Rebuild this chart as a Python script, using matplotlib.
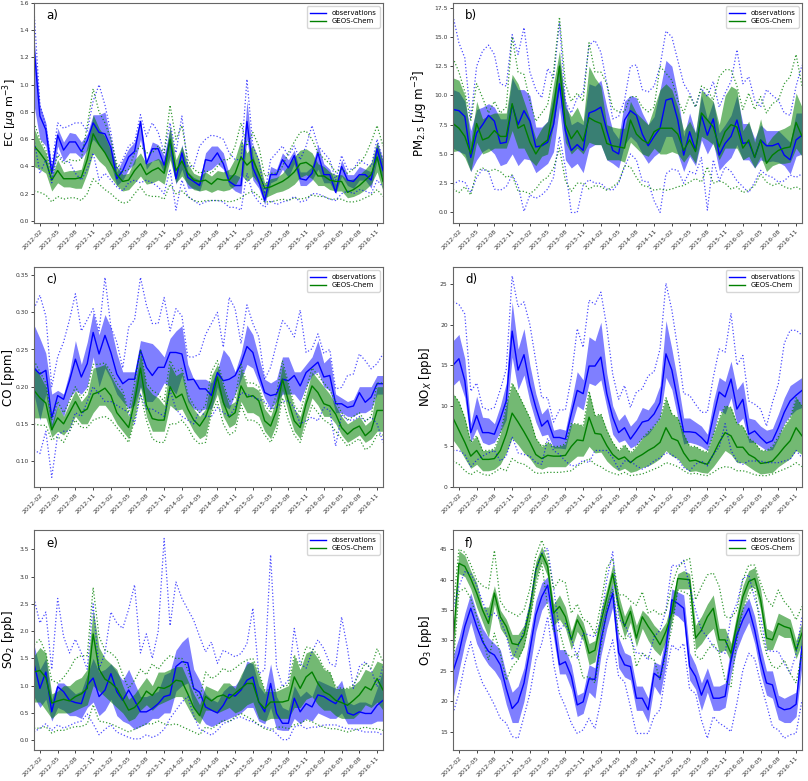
import numpy as np
import matplotlib
matplotlib.use("Agg")
import matplotlib.pyplot as plt

months = np.arange(60)  # 2012-01 ... 2016-12
tick_pos = [1, 4, 7, 10, 13, 16, 19, 22, 25, 28, 31, 34, 37, 40, 43, 46, 49, 52, 55, 58]
tick_labels = ['2012-02', '2012-05', '2012-08', '2012-11', '2013-02', '2013-05', '2013-08',
               '2013-11', '2014-02', '2014-05', '2014-08', '2014-11', '2015-02', '2015-05',
               '2015-08', '2015-11', '2016-02', '2016-05', '2016-08', '2016-11']

# ---------------- a) EC ----------------
obs_med_a = [1.28,0.77,0.67,0.35,0.63,0.52,0.58,0.58,0.51,0.59, 0.72,0.65,0.64,0.54,0.31,0.37,0.47,0.51,0.73,0.42,
             0.53,0.53,0.41,0.59,0.31,0.50,0.32,0.29,0.26,0.45, 0.44,0.50,0.42,0.29,0.26,0.26,0.73,0.39,0.29,0.15,
             0.34,0.34,0.45,0.39,0.48,0.31,0.30,0.35,0.50,0.34, 0.34,0.21,0.40,0.30,0.29,0.34,0.34,0.30,0.53,0.37]
obs_q25_a = [0.85,0.60,0.55,0.30,0.55,0.44,0.50,0.50,0.46,0.52, 0.60,0.55,0.50,0.42,0.26,0.30,0.38,0.42,0.60,0.38,
             0.44,0.45,0.35,0.48,0.27,0.38,0.24,0.24,0.22,0.36, 0.38,0.42,0.38,0.26,0.22,0.20,0.60,0.30,0.24,0.12,
             0.28,0.30,0.38,0.32,0.42,0.26,0.26,0.30,0.38,0.28, 0.28,0.20,0.33,0.26,0.24,0.30,0.30,0.24,0.45,0.30]
obs_q75_a = [1.35,0.85,0.72,0.40,0.68,0.58,0.65,0.64,0.58,0.64, 0.78,0.78,0.80,0.60,0.36,0.45,0.53,0.58,0.75,0.45,
             0.58,0.56,0.48,0.68,0.36,0.56,0.36,0.32,0.30,0.50, 0.55,0.55,0.50,0.34,0.34,0.32,0.88,0.48,0.34,0.20,
             0.40,0.38,0.50,0.45,0.52,0.36,0.36,0.40,0.56,0.42, 0.38,0.27,0.45,0.34,0.34,0.40,0.38,0.36,0.58,0.45]
obs_hi_a = [1.55,0.85,0.70,0.40,0.72,0.68,0.70,0.72,0.72,0.66, 0.88,1.00,0.85,0.65,0.38,0.45,0.55,0.58,0.78,0.62,
            0.72,0.65,0.50,0.72,0.50,0.77,0.40,0.40,0.55,0.60, 0.63,0.62,0.60,0.50,0.45,0.45,1.04,0.55,0.45,0.20,
            0.45,0.50,0.55,0.48,0.55,0.45,0.55,0.70,0.55,0.50, 0.45,0.30,0.48,0.38,0.38,0.45,0.42,0.40,0.60,0.45]
obs_lo_a = [0.60,0.35,0.45,0.28,0.50,0.44,0.43,0.35,0.30,0.38, 0.50,0.30,0.35,0.30,0.25,0.22,0.28,0.30,0.28,0.30,
            0.28,0.25,0.20,0.38,0.08,0.30,0.18,0.15,0.12,0.14, 0.15,0.15,0.14,0.10,0.10,0.08,0.35,0.20,0.14,0.10,
            0.15,0.12,0.14,0.15,0.18,0.14,0.15,0.20,0.20,0.18, 0.16,0.15,0.20,0.22,0.20,0.23,0.22,0.20,0.30,0.25]
mod_med_a = [0.55,0.50,0.44,0.30,0.37,0.31,0.31,0.31,0.32,0.45, 0.64,0.56,0.50,0.42,0.34,0.29,0.30,0.37,0.42,0.34,
             0.37,0.39,0.35,0.60,0.37,0.44,0.35,0.30,0.29,0.30, 0.27,0.31,0.30,0.30,0.35,0.47,0.41,0.45,0.35,0.24,
             0.25,0.27,0.29,0.32,0.36,0.42,0.43,0.40,0.33,0.33, 0.30,0.29,0.29,0.21,0.23,0.26,0.30,0.34,0.47,0.29]
mod_q25_a = [0.40,0.38,0.35,0.22,0.28,0.25,0.25,0.24,0.24,0.35, 0.50,0.44,0.40,0.32,0.26,0.22,0.23,0.28,0.33,0.27,
             0.28,0.30,0.27,0.45,0.28,0.33,0.27,0.23,0.22,0.23, 0.21,0.23,0.22,0.23,0.26,0.34,0.29,0.33,0.27,0.17,
             0.19,0.21,0.22,0.24,0.27,0.32,0.34,0.31,0.26,0.26, 0.23,0.22,0.22,0.17,0.18,0.20,0.23,0.27,0.36,0.22]
mod_q75_a = [0.68,0.58,0.50,0.33,0.45,0.36,0.37,0.37,0.38,0.55, 0.78,0.68,0.62,0.52,0.40,0.34,0.35,0.45,0.50,0.42,
             0.44,0.46,0.42,0.70,0.45,0.55,0.42,0.35,0.33,0.36, 0.33,0.37,0.36,0.38,0.46,0.60,0.50,0.56,0.45,0.28,
             0.31,0.32,0.35,0.41,0.47,0.52,0.53,0.50,0.42,0.40, 0.36,0.34,0.34,0.30,0.31,0.34,0.38,0.43,0.58,0.43]
mod_hi_a = [0.72,0.60,0.52,0.35,0.48,0.42,0.45,0.44,0.45,0.70, 0.97,0.80,0.72,0.60,0.42,0.36,0.38,0.50,0.55,0.50,
            0.50,0.55,0.50,0.85,0.60,0.70,0.45,0.38,0.35,0.37, 0.35,0.40,0.45,0.45,0.55,0.72,0.55,0.65,0.55,0.33,
            0.35,0.35,0.40,0.50,0.58,0.65,0.66,0.60,0.50,0.46, 0.42,0.36,0.38,0.35,0.38,0.42,0.48,0.58,0.70,0.55]
mod_lo_a = [0.22,0.21,0.19,0.14,0.18,0.16,0.17,0.17,0.15,0.20, 0.31,0.27,0.23,0.20,0.16,0.13,0.14,0.20,0.25,0.19,
            0.18,0.18,0.16,0.27,0.20,0.22,0.18,0.15,0.14,0.15, 0.15,0.15,0.15,0.14,0.15,0.17,0.20,0.22,0.18,0.14,
            0.14,0.15,0.16,0.15,0.17,0.16,0.17,0.19,0.18,0.18, 0.16,0.16,0.16,0.14,0.14,0.15,0.17,0.19,0.23,0.18]

# ---------------- b) PM2.5 ----------------
obs_med_b = [8.8,8.7,8.2,4.7,6.8,7.5,8.3,7.8,5.9,6.0, 9.2,7.5,8.7,7.8,5.6,5.7,6.0,7.5,11.0,7.0,
             5.3,5.8,5.3,8.5,8.7,9.0,7.0,5.3,5.0,7.9, 8.7,8.3,6.7,5.7,6.5,7.2,9.6,9.75,7.9,4.9,
             6.9,5.3,8.3,6.6,8.0,4.9,5.9,6.5,7.9,5.9, 6.0,4.7,6.2,5.7,5.7,5.9,4.9,4.5,6.2,6.6]
obs_q25_b = [5.5,5.2,5.0,3.5,4.5,5.2,5.5,5.0,4.0,4.2, 5.0,4.0,4.6,4.5,3.4,3.8,4.2,5.2,9.0,4.5,
             3.8,4.2,3.4,5.5,5.8,5.8,4.5,4.2,3.8,5.8, 6.5,6.0,5.0,4.2,4.8,5.2,6.5,6.5,5.0,3.5,
             4.8,4.0,6.2,5.0,6.0,3.6,4.2,4.7,5.8,4.5, 4.5,3.8,4.5,4.3,4.4,4.3,4.0,3.3,4.8,5.0]
obs_q75_b = [10.5,10.3,9.5,7.0,8.8,9.0,9.3,9.0,8.0,8.0, 11.5,10.5,10.5,10.0,7.3,7.3,7.8,10.0,13.0,9.5,
             7.5,7.8,7.5,11.0,10.8,11.3,9.0,7.0,6.3,9.5, 10.0,9.8,8.5,7.5,8.2,10.5,13.0,12.5,10.0,6.5,
             8.5,6.8,10.0,8.0,9.5,6.8,7.5,8.3,10.0,7.6, 7.6,6.3,7.5,7.0,7.0,7.0,6.5,6.0,8.5,8.5]
obs_hi_b = [16.8,14.5,13.2,8.0,12.5,13.8,14.3,13.5,11.0,10.8, 15.2,13.5,15.8,12.0,10.5,9.8,12.3,11.5,16.2,9.5,
            8.5,9.8,10.2,14.3,14.7,13.7,11.0,8.0,8.2,9.6, 12.5,12.6,10.5,10.3,10.8,12.5,15.5,15.0,13.0,11.0,
            10.2,9.0,10.6,9.9,11.2,9.0,10.2,11.2,13.9,11.0, 11.6,9.6,9.0,10.5,10.0,9.6,8.5,8.3,10.8,12.6]
obs_lo_b = [2.4,2.7,2.6,1.7,3.0,3.7,3.5,2.0,1.9,2.2, 3.2,2.3,0.1,1.5,1.2,1.5,2.0,3.0,6.5,3.8,
            0.0,0.0,2.3,2.8,2.5,2.5,2.0,1.9,2.5,3.9, 5.0,4.5,2.7,2.6,1.0,0.0,3.3,3.7,3.6,2.5,
            3.5,3.3,4.7,0.2,4.5,2.7,3.9,3.5,2.7,2.2, 1.7,2.6,3.6,3.2,3.0,2.6,2.7,3.2,3.0,3.3]
mod_med_b = [7.6,7.2,6.5,5.0,7.6,6.2,6.4,7.0,6.5,6.5, 9.3,7.2,7.5,6.0,5.0,5.8,6.2,9.0,12.5,7.5,
             6.3,7.0,6.1,8.1,7.8,7.6,5.9,5.7,5.6,5.5, 7.9,6.7,6.2,5.9,6.9,7.2,7.2,7.2,6.7,5.3,
             6.2,5.2,8.5,7.9,7.3,5.6,6.9,7.5,7.3,5.5, 6.2,4.7,6.2,4.2,4.9,5.3,5.5,5.6,7.7,6.5]
mod_q25_b = [5.2,5.3,4.7,3.5,6.0,5.0,5.2,5.5,5.5,5.5, 7.0,5.5,5.5,4.5,4.0,4.8,5.0,7.5,10.5,6.0,
             5.0,5.5,5.0,6.0,5.8,5.8,4.5,4.5,4.5,4.3, 6.0,5.5,5.0,4.8,5.5,5.0,5.0,5.2,5.0,4.3,
             5.0,4.2,6.5,6.2,5.8,4.5,5.5,5.5,5.5,4.5, 4.8,3.8,4.8,3.5,4.0,4.2,4.2,4.3,5.5,4.8]
mod_q75_b = [11.5,11.3,10.0,6.0,9.5,8.0,8.3,8.5,8.5,8.5, 11.8,11.0,9.5,8.0,6.3,7.2,7.8,11.0,13.8,9.0,
             8.2,9.0,7.8,12.5,11.5,10.8,7.5,7.3,7.2,7.2, 9.5,8.5,8.0,7.5,9.0,10.5,11.0,10.5,9.0,7.0,
             7.8,6.8,10.5,10.0,9.5,7.5,10.0,10.8,10.5,7.0, 7.8,6.0,8.0,5.8,6.5,7.0,7.2,7.5,10.2,9.0]
mod_hi_b = [13.2,12.0,10.3,7.8,11.0,9.8,8.5,9.5,8.5,9.0, 15.0,12.0,11.8,9.5,7.8,8.5,9.2,12.0,16.7,11.0,
            9.5,10.2,9.5,14.5,12.0,12.0,11.0,8.9,8.6,8.6, 9.9,9.9,9.0,8.6,9.0,12.5,11.9,11.3,9.6,8.5,
            10.0,9.0,10.8,10.5,9.6,11.6,12.2,12.2,10.8,8.8, 10.2,8.8,9.9,8.5,9.3,9.6,11.0,11.6,13.5,10.8]
mod_lo_b = [2.0,1.7,2.2,1.5,3.5,3.8,3.5,3.7,3.5,3.0, 3.2,1.8,1.8,1.6,2.0,2.7,3.0,3.8,5.5,2.7,
            1.8,2.5,2.5,2.0,2.3,2.2,1.9,2.2,2.6,4.0, 3.9,3.0,2.3,2.2,1.9,2.0,1.9,2.0,2.2,2.3,
            2.6,2.9,2.6,3.9,2.5,2.7,2.5,2.0,2.2,1.7, 1.9,2.3,3.3,2.6,2.3,2.5,2.2,2.0,2.2,1.9]

# ---------------- c) CO ----------------
obs_med_c = [0.225,0.217,0.222,0.158,0.188,0.183,0.208,0.237,0.213,0.231, 0.273,0.244,0.269,0.246,0.217,0.204,0.210,0.210,0.249,0.226,
             0.215,0.226,0.226,0.246,0.246,0.244,0.209,0.210,0.197,0.197, 0.188,0.219,0.208,0.210,0.215,0.231,0.254,0.246,0.217,0.192,
             0.188,0.190,0.210,0.208,0.215,0.201,0.219,0.226,0.233,0.213, 0.215,0.177,0.177,0.172,0.174,0.192,0.179,0.186,0.204,0.204]
obs_q25_c = [0.190,0.155,0.190,0.140,0.175,0.160,0.185,0.195,0.190,0.200, 0.240,0.200,0.225,0.210,0.190,0.180,0.170,0.175,0.200,0.180,
             0.180,0.190,0.205,0.200,0.190,0.215,0.180,0.170,0.168,0.170, 0.170,0.200,0.175,0.170,0.190,0.210,0.230,0.225,0.205,0.185,
             0.170,0.180,0.190,0.190,0.190,0.180,0.200,0.215,0.220,0.200, 0.195,0.165,0.165,0.160,0.160,0.165,0.165,0.170,0.190,0.190]
obs_q75_c = [0.283,0.265,0.245,0.190,0.195,0.190,0.220,0.262,0.230,0.260, 0.300,0.270,0.297,0.280,0.245,0.220,0.220,0.220,0.262,0.260,
             0.258,0.250,0.240,0.265,0.275,0.282,0.230,0.210,0.210,0.210, 0.205,0.222,0.250,0.240,0.220,0.245,0.283,0.270,0.240,0.210,
             0.205,0.210,0.240,0.240,0.220,0.220,0.230,0.240,0.262,0.232, 0.240,0.190,0.185,0.180,0.183,0.200,0.200,0.200,0.215,0.215]
obs_hi_c = [0.305,0.323,0.295,0.200,0.240,0.260,0.290,0.325,0.275,0.290, 0.305,0.275,0.347,0.280,0.260,0.225,0.280,0.290,0.347,0.310,
            0.285,0.285,0.320,0.275,0.305,0.295,0.240,0.240,0.244,0.270, 0.285,0.300,0.253,0.320,0.305,0.258,0.310,0.285,0.267,0.210,
            0.226,0.258,0.289,0.280,0.267,0.303,0.246,0.251,0.271,0.245, 0.250,0.197,0.199,0.215,0.217,0.244,0.235,0.224,0.231,0.244]
obs_lo_c = [0.115,0.110,0.140,0.078,0.135,0.140,0.140,0.165,0.160,0.180, 0.200,0.190,0.180,0.180,0.175,0.170,0.165,0.150,0.190,0.170,
            0.170,0.165,0.160,0.195,0.170,0.160,0.155,0.150,0.168,0.160, 0.160,0.172,0.165,0.160,0.172,0.192,0.190,0.186,0.183,0.180,
            0.170,0.172,0.180,0.181,0.172,0.150,0.154,0.159,0.154,0.172, 0.168,0.120,0.163,0.155,0.155,0.160,0.154,0.159,0.150,0.125]
mod_med_c = [0.195,0.185,0.178,0.142,0.158,0.150,0.165,0.180,0.165,0.170, 0.190,0.193,0.198,0.188,0.165,0.155,0.145,0.180,0.225,0.175,
             0.157,0.155,0.155,0.200,0.185,0.190,0.170,0.155,0.147,0.159, 0.181,0.213,0.179,0.159,0.165,0.201,0.186,0.188,0.181,0.154,
             0.147,0.168,0.210,0.181,0.154,0.145,0.177,0.201,0.192,0.177, 0.174,0.163,0.145,0.136,0.143,0.147,0.134,0.141,0.168,0.168]
mod_q25_c = [0.158,0.158,0.158,0.132,0.140,0.135,0.145,0.160,0.150,0.150, 0.165,0.175,0.175,0.165,0.150,0.140,0.130,0.160,0.200,0.160,
             0.140,0.140,0.140,0.175,0.168,0.170,0.155,0.140,0.130,0.135, 0.170,0.190,0.160,0.145,0.150,0.180,0.165,0.165,0.160,0.140,
             0.130,0.150,0.195,0.165,0.140,0.130,0.160,0.185,0.175,0.160, 0.160,0.150,0.135,0.125,0.130,0.135,0.125,0.130,0.140,0.140]
mod_q75_c = [0.228,0.215,0.200,0.150,0.175,0.160,0.178,0.195,0.180,0.190, 0.225,0.227,0.230,0.215,0.200,0.190,0.160,0.200,0.245,0.200,
             0.190,0.185,0.175,0.230,0.215,0.220,0.185,0.170,0.160,0.170, 0.215,0.230,0.200,0.175,0.180,0.225,0.200,0.200,0.195,0.170,
             0.160,0.185,0.230,0.200,0.170,0.160,0.190,0.220,0.210,0.200, 0.190,0.175,0.160,0.150,0.155,0.160,0.148,0.155,0.200,0.200]
mod_hi_c = [0.235,0.220,0.205,0.155,0.180,0.165,0.180,0.200,0.185,0.195, 0.230,0.230,0.232,0.220,0.205,0.195,0.165,0.205,0.250,0.205,
            0.195,0.190,0.180,0.235,0.220,0.225,0.190,0.175,0.165,0.175, 0.220,0.235,0.205,0.180,0.185,0.230,0.205,0.205,0.200,0.175,
            0.165,0.190,0.235,0.205,0.175,0.165,0.195,0.225,0.215,0.205, 0.195,0.180,0.165,0.155,0.160,0.165,0.153,0.160,0.205,0.205]
mod_lo_c = [0.150,0.148,0.148,0.128,0.133,0.125,0.140,0.155,0.145,0.145, 0.155,0.158,0.160,0.155,0.145,0.135,0.125,0.155,0.190,0.155,
            0.130,0.125,0.125,0.150,0.150,0.155,0.145,0.130,0.123,0.125, 0.165,0.180,0.150,0.135,0.140,0.175,0.155,0.155,0.150,0.135,
            0.125,0.140,0.185,0.155,0.135,0.125,0.150,0.175,0.165,0.155, 0.150,0.140,0.130,0.120,0.125,0.130,0.115,0.120,0.135,0.135]

# ---------------- d) NOx ----------------
obs_med_d = [15.0,15.8,13.1,6.7,8.8,6.7,6.7,6.5,8.4,10.6, 19.2,14.4,16.3,12.5,9.8,7.5,8.2,6.1,6.1,5.9,
             9.0,11.9,11.5,14.9,14.9,16.0,11.5,8.6,6.7,7.3, 5.9,6.9,8.0,8.2,9.0,10.4,16.4,14.4,10.6,6.8,
             6.8,6.7,6.1,5.3,8.6,11.7,11.1,13.3,9.6,10.8, 6.5,6.9,6.1,5.4,5.7,7.3,9.2,10.6,11.3,11.9]
obs_q25_d = [12.5,13.2,11.0,5.5,7.2,5.5,5.2,5.5,6.8,8.3, 16.0,12.0,13.8,10.5,8.0,6.3,6.5,4.8,4.8,4.7,
             7.5,10.0,9.5,12.8,12.5,13.2,9.8,6.5,5.5,5.8, 4.8,5.2,6.0,6.5,7.5,8.5,13.5,12.0,8.5,5.3,
             5.5,5.3,5.0,4.5,6.5,9.5,9.0,11.0,7.7,8.5, 5.5,5.5,5.0,4.5,4.6,6.0,7.8,8.8,9.5,9.8]
obs_q75_d = [18.0,18.8,15.8,7.8,11.2,8.6,8.5,7.8,10.0,12.8, 22.8,17.0,19.5,15.0,11.5,9.0,9.8,7.0,7.2,7.0,
             10.5,14.2,13.2,18.5,18.0,20.3,14.0,10.0,8.2,9.0, 7.5,8.3,9.8,9.5,10.5,12.5,20.5,17.0,13.0,8.5,
             8.5,8.0,7.5,6.5,10.5,13.5,13.0,15.5,12.0,13.0, 8.5,8.3,7.5,7.0,7.2,9.0,11.0,12.5,13.0,13.5]
obs_hi_d = [22.8,22.5,21.3,11.8,12.8,9.8,9.5,9.8,12.0,14.5, 26.0,22.2,22.8,20.0,15.5,11.0,11.0,8.0,9.5,9.5,
            13.5,19.5,17.2,23.0,22.5,24.0,19.7,13.9,10.8,12.5, 9.8,11.7,12.1,13.7,14.2,17.0,25.1,21.8,17.0,11.5,
            11.3,10.2,9.2,9.2,13.5,17.0,16.6,21.4,15.0,16.2, 10.6,10.2,9.6,7.5,10.4,12.7,17.7,19.3,19.3,18.7]
obs_lo_d = [4.5,4.5,4.0,2.5,3.3,3.8,4.2,4.5,3.2,3.8, 6.2,4.2,4.0,3.8,3.0,2.8,6.0,4.5,4.0,3.2,
            2.6,2.7,3.3,3.0,4.5,4.5,4.5,3.6,2.2,3.2, 3.2,2.6,2.2,2.6,3.2,3.6,4.2,4.0,3.4,2.4,
            2.0,2.8,3.2,2.6,4.0,4.9,7.8,4.5,3.2,2.8, 3.2,3.2,3.2,3.0,3.0,3.0,3.2,3.4,4.5,3.6]
mod_med_d = [8.5,7.0,5.5,3.8,4.5,3.4,3.4,3.5,4.5,6.5, 9.1,8.0,6.8,5.5,4.0,3.5,3.9,3.8,3.8,3.9,
             5.0,5.8,5.7,8.6,6.6,6.5,5.1,4.0,3.4,3.7, 3.0,3.6,4.0,4.5,4.9,5.5,7.3,6.0,5.7,4.2,
             3.2,3.3,3.0,2.8,4.0,5.5,6.7,6.3,4.9,4.9, 4.0,3.6,2.9,3.0,3.2,4.0,4.9,5.7,7.3,6.3]
mod_q25_d = [5.8,4.8,3.5,2.3,2.8,2.0,2.0,2.2,2.8,4.2, 6.0,5.2,4.2,3.5,2.5,2.2,2.5,2.5,2.5,2.5,
             3.2,3.8,3.8,5.0,4.2,4.3,3.2,2.5,2.0,2.3, 1.8,2.0,2.4,2.6,3.0,3.5,4.5,3.8,3.5,2.5,
             1.9,2.0,1.8,1.7,2.5,3.5,4.5,4.0,3.0,3.0, 2.5,2.0,1.6,1.7,1.8,2.5,3.0,3.5,4.5,4.0]
mod_q75_d = [11.5,10.5,8.5,5.5,6.3,4.5,4.5,4.7,6.5,10.0, 12.8,11.5,10.0,8.5,6.0,5.0,5.5,5.0,5.0,5.3,
             7.8,7.8,7.5,11.8,8.8,9.0,7.0,5.5,4.5,5.2, 4.2,5.0,6.0,6.8,7.5,8.5,11.0,9.0,8.5,6.5,
             5.0,5.0,4.5,4.3,6.5,8.5,10.0,9.8,7.8,7.5, 6.0,5.5,4.5,4.5,5.0,6.2,7.5,8.5,11.0,10.0]
mod_hi_d = mod_q75_d
mod_lo_d = [3.2,2.8,2.0,1.5,2.0,1.6,1.4,1.8,2.3,2.0, 3.5,3.0,2.8,2.3,1.7,1.7,1.8,1.8,1.8,1.9,
            2.0,2.6,3.0,3.5,2.8,2.5,2.0,1.7,1.5,1.8, 1.4,1.5,1.6,1.9,2.2,2.5,3.0,2.8,2.5,2.0,
            1.6,1.7,1.5,1.4,1.8,2.3,2.5,2.4,2.0,2.0, 1.8,1.5,1.4,1.4,1.6,1.9,2.2,2.5,3.0,2.5]

# ---------------- e) SO2 ----------------
obs_med_e = [1.40,0.95,1.25,0.52,0.98,0.89,0.73,0.69,0.67,1.01, 1.14,0.80,0.92,1.22,0.89,0.73,0.92,0.73,0.52,0.52,
             0.58,0.67,0.80,0.83,1.35,1.44,1.42,0.95,0.88,0.61, 0.55,0.50,0.64,0.84,0.81,0.92,1.10,1.16,0.70,0.52,
             1.04,0.49,0.31,0.31,0.77,0.52,0.67,0.61,0.83,0.80, 0.73,0.67,0.83,0.50,0.46,0.52,0.49,0.49,0.64,0.73]
obs_q25_e = [0.80,0.60,0.75,0.35,0.60,0.55,0.45,0.45,0.40,0.60, 0.70,0.45,0.55,0.75,0.45,0.35,0.30,0.20,0.25,0.30,
             0.40,0.40,0.50,0.50,0.90,1.00,1.05,0.60,0.45,0.30, 0.25,0.30,0.35,0.40,0.45,0.50,0.60,0.60,0.35,0.30,
             0.60,0.20,0.18,0.18,0.40,0.30,0.40,0.35,0.50,0.45, 0.40,0.40,0.50,0.30,0.30,0.30,0.30,0.30,0.35,0.35]
obs_q75_e = [1.75,1.30,1.50,0.75,1.05,1.05,0.95,0.85,0.90,1.20, 1.50,1.25,1.30,1.40,1.25,1.10,1.30,1.05,0.80,0.80,
             0.85,0.90,1.20,1.25,1.65,1.80,1.90,1.30,1.10,0.85, 0.75,0.70,0.90,1.00,1.00,1.15,1.45,1.40,1.00,0.85,
             1.40,0.80,0.60,0.55,1.00,0.80,0.90,0.80,1.10,1.05, 1.00,0.95,1.10,0.70,0.65,0.70,0.70,0.65,0.95,1.30]
obs_hi_e = [2.60,2.15,2.35,1.30,2.60,1.90,1.60,1.85,1.60,1.30, 2.50,1.30,1.60,2.35,2.15,2.05,2.40,2.85,1.60,1.95,
            1.50,2.00,3.70,2.10,2.90,2.60,2.40,2.20,1.90,1.62, 1.80,1.41,1.65,1.59,1.53,1.59,1.77,2.42,1.22,1.29,
            3.40,1.35,0.98,1.10,2.05,1.41,1.32,1.62,1.84,1.68, 1.41,1.35,2.26,1.68,0.95,1.35,1.44,1.29,0.98,1.35]
obs_lo_e = [0.15,0.22,0.30,0.18,0.28,0.22,0.27,0.32,0.35,0.48, 0.30,0.10,0.20,0.28,0.15,0.10,0.05,0.02,0.03,0.10,
            0.05,0.10,0.20,0.40,0.55,0.70,0.80,0.45,0.20,0.15, 0.09,0.18,0.31,0.34,0.40,0.43,0.37,0.34,0.28,0.24,
            0.21,0.12,0.01,0.01,0.24,0.28,0.21,0.24,0.24,0.28, 0.28,0.28,0.24,0.21,0.21,0.18,0.15,0.15,0.15,0.09]
mod_med_e = [1.25,1.28,1.15,0.68,0.72,0.75,0.72,0.80,0.85,0.95, 1.95,1.30,1.12,1.05,0.95,0.75,0.55,0.60,0.72,0.90,
             0.82,0.97,0.95,1.00,1.10,1.08,0.85,0.60,0.45,0.80, 0.72,0.80,0.83,0.77,0.86,0.95,1.04,1.04,0.70,0.58,
             0.70,0.70,0.70,0.73,1.16,0.95,1.16,1.25,1.04,0.89, 0.83,0.73,0.69,0.64,0.73,0.83,0.98,0.92,1.13,0.92]
mod_q25_e = [0.70,0.70,0.55,0.40,0.50,0.50,0.50,0.55,0.60,0.65, 1.00,0.90,0.80,0.70,0.60,0.50,0.35,0.40,0.55,0.65,
             0.55,0.65,0.70,0.75,0.80,0.80,0.60,0.40,0.30,0.55, 0.55,0.50,0.55,0.60,0.50,0.55,0.65,0.70,0.40,0.35,
             0.40,0.40,0.40,0.40,0.60,0.60,0.75,0.80,0.65,0.55, 0.55,0.45,0.40,0.40,0.40,0.50,0.65,0.60,0.70,0.55]
mod_q75_e = [1.55,1.70,1.60,0.85,0.90,1.00,1.00,1.10,1.15,1.30, 2.40,1.70,1.50,1.40,1.30,1.00,0.75,0.85,1.00,1.15,
             1.00,1.25,1.25,1.30,1.35,1.35,1.10,0.85,0.65,1.00, 0.95,0.90,1.05,1.05,0.95,1.20,1.40,1.45,1.20,0.90,
             0.90,0.90,0.95,1.00,1.55,1.30,1.60,1.65,1.50,1.30, 1.25,0.95,0.95,0.95,1.00,1.10,1.30,1.25,1.45,1.40]
mod_hi_e = [1.75,1.85,1.60,1.10,1.05,1.15,1.30,1.50,1.55,1.55, 2.80,1.90,1.65,1.60,1.50,1.20,0.95,1.10,1.30,1.20,
            1.40,1.30,1.45,1.55,1.50,1.50,1.30,0.95,0.75,1.25, 1.13,1.19,1.32,1.25,1.32,1.41,1.47,1.50,1.25,0.92,
            0.92,0.92,0.98,1.01,1.56,1.35,1.71,1.68,1.56,1.32, 1.25,0.98,0.95,0.95,1.01,1.22,1.41,1.32,1.68,1.44]
mod_lo_e = [0.22,0.22,0.25,0.13,0.18,0.18,0.22,0.25,0.25,0.30, 0.65,0.35,0.33,0.30,0.25,0.20,0.15,0.20,0.25,0.30,
            0.30,0.35,0.30,0.28,0.30,0.25,0.20,0.15,0.10,0.24, 0.21,0.28,0.37,0.34,0.43,0.49,0.43,0.37,0.28,0.21,
            0.18,0.24,0.24,0.21,0.28,0.31,0.37,0.34,0.28,0.24, 0.21,0.21,0.18,0.15,0.18,0.21,0.24,0.21,0.21,0.18]

# ---------------- f) O3 ----------------
obs_med_f = [24.9,27.9,32.3,35.3,32.3,29.8,28.2,27.6,26.0,22.1, 18.8,19.9,23.0,28.4,34.2,37.2,39.1,32.8,26.0,26.5,
             24.1,19.4,19.9,23.7,23.6,30.0,34.5,37.8,28.0,26.0, 25.7,20.5,20.5,18.6,24.6,23.8,28.7,36.7,36.1,35.3,
             25.7,24.1,21.0,23.5,20.5,20.5,20.8,26.8,30.9,33.4, 35.3,31.7,26.8,23.0,22.7,19.1,18.6,18.8,19.5,29.0]
obs_q25_f = [20.5,25.0,29.5,33.0,29.5,27.5,26.0,25.0,23.5,19.5, 16.5,16.5,20.0,25.5,31.5,35.0,36.5,30.5,24.5,24.5,
             22.0,17.5,18.0,21.5,20.5,27.5,32.0,35.5,25.5,24.0, 23.5,18.5,18.5,16.5,22.5,21.0,26.0,34.5,34.0,33.0,
             23.5,22.0,18.5,21.5,18.5,18.5,19.0,24.5,28.5,31.0, 33.0,29.5,24.5,21.0,20.5,17.0,16.5,16.5,17.5,26.0]
obs_q75_f = [27.5,30.5,34.5,37.8,34.5,32.0,30.5,29.5,28.5,24.5, 21.5,22.5,25.5,31.0,36.5,39.5,40.5,35.5,28.5,28.5,
             26.0,21.0,21.5,26.0,25.5,32.5,36.5,39.5,30.5,28.0, 27.5,22.5,22.5,20.5,26.5,26.0,31.0,38.5,38.0,37.5,
             28.0,26.0,23.0,25.5,22.5,22.5,23.0,29.0,33.0,35.5, 37.0,34.0,29.0,25.0,25.0,21.0,20.5,21.0,21.5,31.5]
obs_hi_f = [35.0,38.9,41.3,41.0,39.1,36.4,33.9,34.5,33.4,30.9, 26.8,29.0,31.7,35.6,41.6,44.3,45.2,38.6,31.7,32.8,
            30.4,27.1,31.2,30.9,30.6,33.4,40.0,44.6,33.4,32.8, 30.4,27.9,27.9,26.8,30.6,31.7,35.0,42.4,42.2,43.2,
            38.9,35.0,31.7,30.6,29.0,28.2,27.9,33.9,36.1,40.2, 40.8,36.9,33.9,28.4,28.2,28.2,26.2,24.6,27.9,33.9]
obs_lo_f = [18.0,21.3,26.2,29.8,25.7,23.0,21.3,19.4,17.2,16.4, 14.2,13.9,17.5,21.3,26.8,29.5,33.9,26.2,21.3,19.1,
            16.4,14.7,15.3,17.2,15.5,20.2,26.8,30.1,24.1,23.2, 19.1,14.7,14.7,14.7,17.5,18.6,24.9,29.3,28.4,29.5,
            22.0,21.3,16.9,13.9,17.5,16.4,15.8,15.0,19.7,25.1, 27.9,27.0,23.0,19.5,15.8,15.3,13.9,14.5,14.7,20.2]
mod_med_f = [29.3,42.7,42.2,40.2,37.8,35.0,32.8,37.8,33.9,32.3, 29.5,29.3,30.9,35.3,41.6,44.3,42.2,34.5,35.6,33.9,
             30.1,33.4,31.5,27.9,28.4,33.0,37.0,41.0,35.8,32.3, 34.8,30.4,33.9,32.3,30.9,29.3,31.5,34.5,40.2,40.1,
             40.0,30.4,31.7,33.9,35.3,30.1,30.1,27.9,32.8,37.2, 39.7,40.2,36.7,30.4,30.1,32.8,32.3,32.0,28.4,31.2]
mod_q25_f = [26.5,41.0,40.5,38.5,35.5,33.0,30.5,36.0,32.0,30.5, 27.5,27.0,29.0,33.5,40.0,43.0,40.5,32.5,33.5,32.0,
             28.5,31.5,30.0,26.0,26.5,31.5,35.5,39.5,34.0,30.5, 33.0,29.0,32.0,30.0,28.5,27.5,30.0,33.0,38.5,38.5,
             38.5,28.5,29.5,31.0,32.0,28.0,28.5,26.5,31.0,35.5, 38.5,39.0,35.0,28.5,28.5,31.0,30.5,30.5,27.0,29.5]
mod_q75_f = [31.0,44.8,44.0,41.5,39.5,35.5,35.5,39.0,35.0,33.5, 31.0,31.0,32.5,36.8,43.0,45.5,43.0,36.0,37.5,35.5,
             31.5,34.5,33.0,29.5,30.0,35.0,38.5,42.5,37.5,34.0, 36.0,32.5,35.0,34.0,32.5,31.5,33.0,36.5,41.0,41.5,
             41.0,32.5,34.0,36.0,37.5,32.0,32.0,29.5,34.5,39.0, 41.5,42.0,38.5,32.0,31.5,34.5,34.0,33.5,30.0,33.0]
mod_hi_f = [35.0,45.0,44.5,42.5,40.0,39.0,38.5,44.8,36.5,35.0, 34.5,34.0,35.0,38.5,44.0,46.5,44.0,38.5,40.0,39.5,
            34.5,36.0,33.5,33.0,31.0,36.0,41.9,43.5,37.5,37.5, 36.5,35.8,38.0,34.5,35.0,34.2,34.7,39.1,41.9,43.0,
            43.5,36.7,38.9,40.8,41.1,38.9,33.9,33.7,35.0,40.0, 42.4,42.4,39.5,36.9,35.6,38.3,36.4,35.3,33.4,35.6]
mod_lo_f = [25.5,38.0,38.6,36.9,33.9,30.4,26.8,31.2,27.9,23.5, 25.7,26.8,29.0,33.4,38.9,42.7,35.6,31.5,31.7,27.9,
            27.3,27.9,23.8,24.1,23.0,29.0,35.0,38.5,31.2,30.1, 31.2,25.7,27.9,27.3,26.8,23.5,27.9,32.0,38.3,38.0,
            37.5,27.5,26.8,28.4,29.5,27.9,23.5,22.4,30.1,35.0, 37.5,38.9,31.7,27.9,25.7,25.4,26.8,24.6,23.0,27.9]

panels = [
    dict(obs=(obs_med_a, obs_q25_a, obs_q75_a, obs_lo_a, obs_hi_a),
         mod=(mod_med_a, mod_q25_a, mod_q75_a, mod_lo_a, mod_hi_a),
         ylim=(-0.015, 1.6), yt=np.arange(0, 1.61, 0.2), fmt='{:.1f}',
         ylabel=r'EC [$\mu$g m$^{-3}$]', letter='a)', lx=-0.044, lfs=8.0),
    dict(obs=(obs_med_b, obs_q25_b, obs_q75_b, obs_lo_b, obs_hi_b),
         mod=(mod_med_b, mod_q25_b, mod_q75_b, mod_lo_b, mod_hi_b),
         ylim=(-0.9, 17.9), yt=np.arange(0, 17.6, 2.5), fmt='{:.1f}',
         ylabel=r'PM$_{2.5}$ [$\mu$g m$^{-3}$]', letter='b)', lx=-0.066, lfs=8.5),
    dict(obs=(obs_med_c, obs_q25_c, obs_q75_c, obs_lo_c, obs_hi_c),
         mod=(mod_med_c, mod_q25_c, mod_q75_c, mod_lo_c, mod_hi_c),
         ylim=(0.065, 0.361), yt=np.arange(0.10, 0.351, 0.05), fmt='{:.2f}',
         ylabel='CO [ppm]', letter='c)', lx=-0.055, lfs=8.5),
    dict(obs=(obs_med_d, obs_q25_d, obs_q75_d, obs_lo_d, obs_hi_d),
         mod=(mod_med_d, mod_q25_d, mod_q75_d, mod_lo_d, mod_hi_d),
         ylim=(0, 27.1), yt=np.arange(0, 26, 5), fmt='{:.0f}',
         ylabel=r'NO$_X$ [ppb]', letter='d)', lx=-0.055, lfs=8.5),
    dict(obs=(obs_med_e, obs_q25_e, obs_q75_e, obs_lo_e, obs_hi_e),
         mod=(mod_med_e, mod_q25_e, mod_q75_e, mod_lo_e, mod_hi_e),
         ylim=(-0.18, 3.855), yt=np.arange(0, 3.51, 0.5), fmt='{:.1f}',
         ylabel=r'SO$_2$ [ppb]', letter='e)', lx=-0.048, lfs=8.5),
    dict(obs=(obs_med_f, obs_q25_f, obs_q75_f, obs_lo_f, obs_hi_f),
         mod=(mod_med_f, mod_q25_f, mod_q75_f, mod_lo_f, mod_hi_f),
         ylim=(11.98, 48.18), yt=np.arange(15, 46, 5), fmt='{:.0f}',
         ylabel=r'O$_3$ [ppb]', letter='f)', lx=-0.055, lfs=8.5),
]

W, H = 808, 781
fig = plt.figure(figsize=(W / 100, H / 100), dpi=100)
lefts = [34, 453]
tops = [3, 267, 530]
aw, ah = 349, 220

for i, p in enumerate(panels):
    col, row = i % 2, i // 2
    l = lefts[col] / W
    b = 1 - (tops[row] + ah) / H
    ax = fig.add_axes([l, b, aw / W, ah / H])
    om, oq1, oq3, olo, ohi = p['obs']
    mm, mq1, mq3, mlo, mhi = p['mod']
    ax.fill_between(months, oq1, oq3, color='blue', alpha=0.5, lw=0)
    ax.fill_between(months, mq1, mq3, color='green', alpha=0.55, lw=0)
    ax.plot(months, om, color='blue', lw=1.0, label='observations')
    ax.plot(months, mm, color='green', lw=1.0, label='GEOS-Chem')
    ax.plot(months, ohi, ls=':', color='blue', alpha=0.7, lw=0.9)
    ax.plot(months, olo, ls=':', color='blue', alpha=0.7, lw=0.9)
    ax.plot(months, mhi, ls=':', color='green', alpha=0.8, lw=0.9)
    ax.plot(months, mlo, ls=':', color='green', alpha=0.8, lw=0.9)
    ax.set_xlim(0, 59)
    ax.set_ylim(*p['ylim'])
    ax.set_xticks(tick_pos)
    ax.set_xticklabels(tick_labels, rotation=45, fontsize=4.6, ha='right', rotation_mode='anchor',
                       color='#333333')
    ax.set_yticks(p['yt'])
    ax.set_yticklabels([p['fmt'].format(v) for v in p['yt']], fontsize=4.3, color='#333333')
    ax.tick_params(length=2.2, width=0.7, color='#444444', pad=1.6)
    ax.set_ylabel(p['ylabel'], fontsize=p['lfs'])
    ax.yaxis.set_label_coords(p['lx'], 0.5)
    ax.text(0.035, 0.925, p['letter'], transform=ax.transAxes, fontsize=8.5)
    ax.legend(loc='upper right', fontsize=5, handlelength=2.2, borderpad=0.5, labelspacing=0.35,
              edgecolor='#cccccc')
    for s in ax.spines.values():
        s.set_color('#666666')
        s.set_linewidth(0.8)

fig.savefig('out.png', dpi=100)
